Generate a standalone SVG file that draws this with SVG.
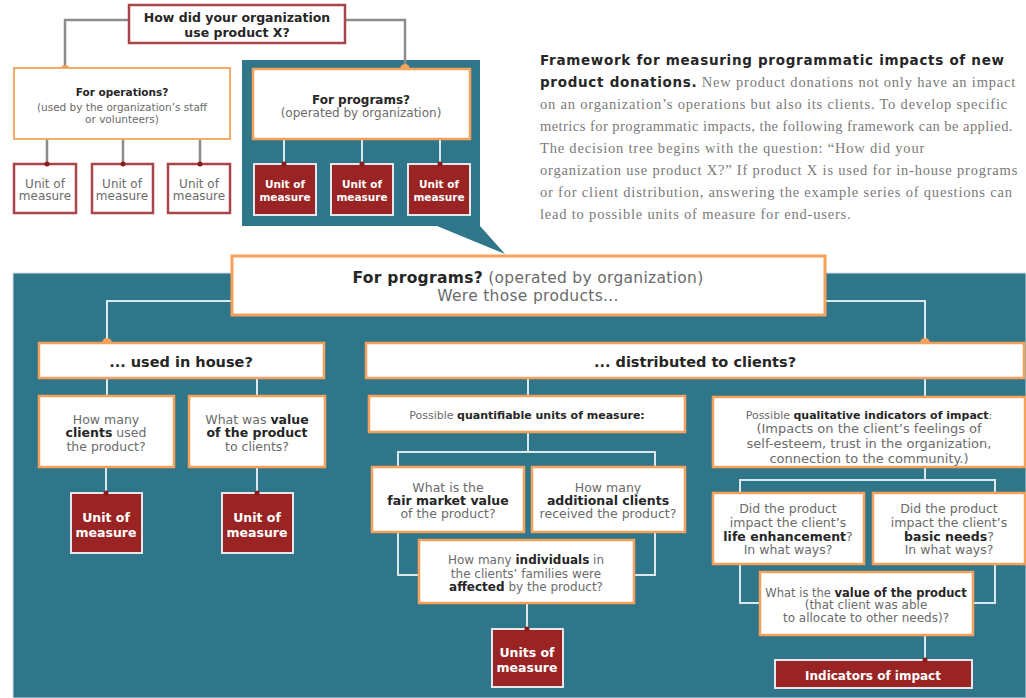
<svg xmlns="http://www.w3.org/2000/svg" width="1026" height="698" viewBox="0 0 1026 698">
<style>
text{font-family:"DejaVu Sans","Liberation Sans",sans-serif;fill:#6b6b6b;font-size:10px;text-anchor:middle}
.b{font-weight:bold;fill:#262626}
.w{fill:#ffffff;font-weight:bold}
.s105{font-size:10.5px}
.s11{font-size:11px}
.s115{font-size:11.5px}
.s12{font-size:12px}
.s125{font-size:12.5px}
.s13{font-size:13px}
.s145{font-size:14.5px}
.s155{font-size:15.5px;letter-spacing:0.3px}
.redbox{fill:#fff;stroke:#a9464b;stroke-width:2.5}
.obox{fill:#fff;stroke:#f5a15c;stroke-width:2.5}
.ubox{fill:#9a2424;stroke:#e4e8ea;stroke-width:2}
.gc{fill:none;stroke:#8c8c8c;stroke-width:2.5}
.lc{fill:none;stroke:#dbe8ec;stroke-width:2}
.dot{fill:#f6a35e}
.rdot{fill:#8a1c1c}
.para{font-family:"Liberation Serif",serif;font-size:14.5px;letter-spacing:0.8px;fill:#7a7a7a;text-anchor:start}
.tight{letter-spacing:0.45px}
.ph{font-family:"DejaVu Sans",sans-serif;font-weight:bold;font-size:13.5px;letter-spacing:0.7px;fill:#262626}
</style>

<g id="panels">
<path d="M242,60 H480 V226 L505,254 L437,226 H242 Z" fill="#2f768a"/>
<rect x="13" y="273" width="1013" height="425" fill="#2f768a" stroke="#cfe0e5" stroke-width="1"/>
</g>

<g id="connectors">
<path class="gc" d="M129,20 H65 V70"/>
<path class="gc" d="M345,20 H405 V70"/>
<path class="gc" d="M47,139 V164 M123,139 V164 M200,139 V164"/>
<path class="lc" d="M284,139 V164 M362,139 V164 M440,139 V164"/>
<path class="lc" d="M232,301 H107 V343 M825,301 H925 V343"/>
<path class="lc" d="M107,378 V396 M257,378 V396 M106,467 V493 M257,467 V493"/>
<path class="lc" d="M528,378 V396 M925,378 V397"/>
<path class="lc" d="M528,432 V452 M419,575 H398 V452 H655 V575 H634 M527,603 V629"/>
<path class="lc" d="M925,467 V480 M760,603 H740 V480 H995 V603 H973 M925,635 V660"/>
<circle class="dot" cx="65" cy="70" r="5"/>
<circle class="dot" cx="405" cy="69" r="5"/>
<circle class="dot" cx="107" cy="343" r="5"/>
<circle class="dot" cx="925" cy="343" r="5"/>
</g>

<g id="n-root">
<rect class="redbox" x="129" y="5" width="216" height="38"/>
<text class="b s125" x="237" y="21.5">How did your organization</text>
<text class="b s125" x="237" y="36.5">use product X?</text>
</g>

<g id="n-operations">
<rect x="14" y="68" width="216" height="71" fill="#fff" stroke="#f5a15c" stroke-width="1.8"/>
<text class="b s105" x="122" y="96">For operations?</text>
<text class="s105" x="122" y="111">(used by the organization’s staff</text>
<text class="s105" x="122" y="123">or volunteers)</text>
</g>

<g id="n-op-units">
<rect class="redbox" x="14" y="164" width="62" height="49"/>
<rect class="redbox" x="92" y="164" width="61" height="49"/>
<rect class="redbox" x="168" y="164" width="62" height="49"/>
<circle class="rdot" cx="47" cy="164" r="2.5"/>
<circle class="rdot" cx="123" cy="164" r="2.5"/>
<circle class="rdot" cx="200" cy="164" r="2.5"/>
<text class="s12" x="45" y="187.5">Unit of</text><text class="s12" x="45" y="200">measure</text>
<text class="s12" x="122" y="187.5">Unit of</text><text class="s12" x="122" y="200">measure</text>
<text class="s12" x="199" y="187.5">Unit of</text><text class="s12" x="199" y="200">measure</text>
</g>

<g id="n-programs-small">
<rect class="obox" x="253" y="69" width="217" height="70"/>
<text class="b s12" x="361" y="103.5">For programs?</text>
<text class="s12" x="361" y="116.5">(operated by organization)</text>
</g>

<g id="n-prog-units">
<rect class="ubox" x="254" y="164" width="62" height="51"/>
<rect class="ubox" x="331" y="164" width="62" height="51"/>
<rect class="ubox" x="408" y="164" width="62" height="51"/>
<circle class="rdot" cx="284" cy="164" r="2.5"/>
<circle class="rdot" cx="362" cy="164" r="2.5"/>
<circle class="rdot" cx="440" cy="164" r="2.5"/>
<text class="w s105" x="285" y="188">Unit of</text><text class="w s105" x="285" y="201">measure</text>
<text class="w s105" x="362" y="188">Unit of</text><text class="w s105" x="362" y="201">measure</text>
<text class="w s105" x="439" y="188">Unit of</text><text class="w s105" x="439" y="201">measure</text>
</g>

<g id="caption">
<text class="para" x="540" y="65"><tspan class="ph">Framework for measuring programmatic impacts of new</tspan></text>
<text class="para" x="540" y="87"><tspan class="ph">product donations.</tspan> New product donations not only have an impact</text>
<text class="para" x="540" y="109">on an organization’s operations but also its clients. To develop specific</text>
<text class="para tight" x="540" y="131">metrics for programmatic impacts, the following framework can be applied.</text>
<text class="para" x="540" y="153">The decision tree begins with the question: “How did your</text>
<text class="para" x="540" y="175">organization use product X?” If product X is used for in-house programs</text>
<text class="para" x="540" y="197">or for client distribution, answering the example series of questions can</text>
<text class="para" x="540" y="219">lead to possible units of measure for end-users.</text>
</g>

<g id="n-programs-main">
<rect x="232" y="256" width="593" height="59" fill="#fff" stroke="#f5a15c" stroke-width="3"/>
<text class="s155" x="528" y="282.5"><tspan class="b">For programs?</tspan> (operated by organization)</text>
<text class="s155" x="528" y="301">Were those products...</text>
</g>

<g id="n-inhouse">
<rect class="obox" x="39" y="343" width="285" height="35"/>
<text class="b s145" x="181" y="367">... used in house?</text>
</g>

<g id="n-distributed">
<rect class="obox" x="366" y="343" width="658" height="35"/>
<text class="b s145" x="695" y="367">... distributed to clients?</text>
</g>

<g id="n-clients-used">
<rect class="obox" x="39" y="396" width="135" height="71"/>
<text class="s125" x="106" y="423.5">How many</text>
<text class="s125" x="106" y="437"><tspan class="b">clients</tspan> used</text>
<text class="s125" x="106" y="450.5">the product?</text>
</g>

<g id="n-value-clients">
<rect class="obox" x="189" y="396" width="136" height="71"/>
<text class="s125" x="257" y="423.5">What was <tspan class="b">value</tspan></text>
<text class="b s125" x="257" y="437">of the product</text>
<text class="s125" x="257" y="450.5">to clients?</text>
</g>

<g id="n-unit-a">
<rect class="ubox" x="71" y="493" width="71" height="60"/>
<circle class="rdot" cx="106" cy="493" r="2.5"/>
<text class="w s125" x="106" y="521.5">Unit of</text>
<text class="w s125" x="106" y="536.5">measure</text>
</g>

<g id="n-unit-b">
<rect class="ubox" x="222" y="493" width="71" height="60"/>
<circle class="rdot" cx="257" cy="493" r="2.5"/>
<text class="w s125" x="257" y="521.5">Unit of</text>
<text class="w s125" x="257" y="536.5">measure</text>
</g>

<g id="n-quantifiable">
<rect class="obox" x="369" y="396" width="316" height="36"/>
<text class="s11" x="527" y="419">Possible <tspan class="b">quantifiable units of measure:</tspan></text>
</g>

<g id="n-fair-market">
<rect class="obox" x="372" y="467" width="152" height="65"/>
<text class="s125" x="448" y="491.5">What is the</text>
<text class="b s125" x="448" y="504.5">fair market value</text>
<text class="s125" x="448" y="517.5">of the product?</text>
</g>

<g id="n-additional">
<rect class="obox" x="532" y="467" width="153" height="65"/>
<text class="s125" x="608" y="491.5">How many</text>
<text class="b s125" x="608" y="504.5">additional clients</text>
<text class="s125" x="608" y="517.5">received the product?</text>
</g>

<g id="n-individuals">
<rect class="obox" x="419" y="540" width="215" height="63"/>
<text class="s12" x="526" y="563.5">How many <tspan class="b">individuals</tspan> in</text>
<text class="s12" x="526" y="577.5">the clients’ families were</text>
<text class="s12" x="526" y="590.5"><tspan class="b">affected</tspan> by the product?</text>
</g>

<g id="n-units-measure">
<rect class="ubox" x="492" y="629" width="71" height="58"/>
<circle class="rdot" cx="527" cy="629" r="2.5"/>
<text class="w s125" x="527" y="656.5">Units of</text>
<text class="w s125" x="527" y="671.5">measure</text>
</g>

<g id="n-qualitative">
<rect class="obox" x="713" y="397" width="312" height="70"/>
<text class="s11" x="869" y="418.5">Possible <tspan class="b">qualitative indicators of impact</tspan>:</text>
<text class="s13" x="869" y="433">(Impacts on the client’s feelings of</text>
<text class="s13" x="869" y="448">self-esteem, trust in the organization,</text>
<text class="s13" x="869" y="462.5">connection to the community.)</text>
</g>

<g id="n-life">
<rect class="obox" x="713" y="493" width="151" height="71"/>
<text class="s125" x="788" y="512.5">Did the product</text>
<text class="s125" x="788" y="527">impact the client’s</text>
<text class="s125" x="788" y="540.5"><tspan class="b">life enhancement</tspan>?</text>
<text class="s125" x="788" y="553.5">In what ways?</text>
</g>

<g id="n-basic">
<rect class="obox" x="873" y="493" width="152" height="71"/>
<text class="s125" x="949" y="512.5">Did the product</text>
<text class="s125" x="949" y="527">impact the client’s</text>
<text class="s125" x="949" y="540.5"><tspan class="b">basic needs</tspan>?</text>
<text class="s125" x="949" y="553.5">In what ways?</text>
</g>

<g id="n-value-product">
<rect class="obox" x="760" y="572" width="213" height="63"/>
<text class="s115" x="866" y="596.5">What is the <tspan class="b">value of the product</tspan></text>
<text class="s12" x="866" y="609">(that client was able</text>
<text class="s12" x="866" y="622">to allocate to other needs)?</text>
</g>

<g id="n-indicators">
<rect class="ubox" x="775" y="660" width="197" height="28"/>
<circle class="rdot" cx="925" cy="660" r="2.5"/>
<text class="w s12" x="873" y="679.5">Indicators of impact</text>
</g>
</svg>
